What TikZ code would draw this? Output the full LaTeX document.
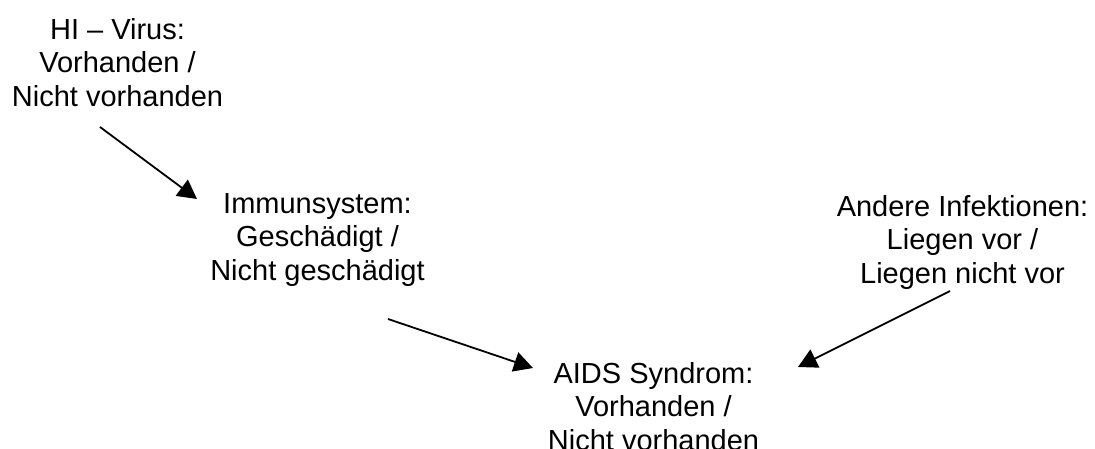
\documentclass[tikz,border=0pt]{standalone}
\usepackage{fontspec}
\setmainfont{Liberation Sans}
\usetikzlibrary{arrows.meta}
\begin{document}
\begin{tikzpicture}[x=1pt, y=-1pt,
  label/.style={anchor=north, inner sep=0pt, align=center,
    font=\fontsize{29}{33.5}\selectfont},
  link/.style={line width=1.8pt, -{Triangle[length=19pt, width=20pt]}}]
  \useasboundingbox (0,0) rectangle (1095,448);
  % variable nodes
  \node[label] (hiv)  at (117.5,18)  {HI – Virus:\\Vorhanden /\\Nicht vorhanden};
  \node[label] (imm)  at (317.5,193) {Immunsystem:\\Geschädigt /\\Nicht geschädigt};
  \node[label] (inf)  at (962.5,195) {Andere Infektionen:\\Liegen vor /\\Liegen nicht vor};
  \node[label] (aids) at (653.5,362) {AIDS Syndrom:\\Vorhanden /\\Nicht vorhanden};
  % connector ends
  \coordinate (hivOut)  at (100,127);
  \coordinate (immIn)   at (197,199);
  \coordinate (immOut)  at (388,319);
  \coordinate (aidsInL) at (533,368);
  \coordinate (infOut)  at (950,291);
  \coordinate (aidsInR) at (798,367);
  % influences
  \draw[link] (hivOut) -- (immIn);
  \draw[link] (immOut) -- (aidsInL);
  \draw[link] (infOut) -- (aidsInR);
\end{tikzpicture}
\end{document}
